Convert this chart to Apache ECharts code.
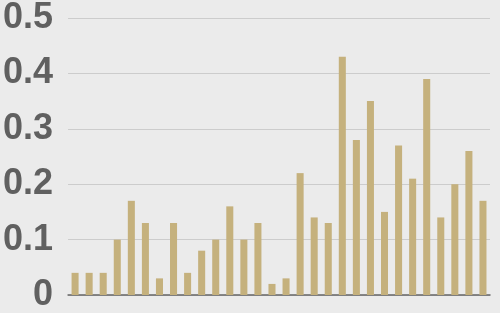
<!DOCTYPE html>
<html><head><meta charset="utf-8">
<script src="https://cdn.jsdelivr.net/npm/echarts@6/dist/echarts.min.js"></script>
<style>html,body{margin:0;padding:0;background:#ebebeb;}#c{width:500px;height:313px;}</style>
</head><body><div id="c"></div>
<script>
const categories = ['1','2','3','4','5','6','7','8','9','10','11','12','13','14','15','16','17','18','19','20','21','22','23','24','25','26','27','28','29','30'];
const values = [0.04,0.04,0.04,0.10,0.17,0.13,0.03,0.13,0.04,0.08,0.10,0.16,0.10,0.13,0.02,0.03,0.22,0.14,0.13,0.43,0.28,0.35,0.15,0.27,0.21,0.39,0.14,0.20,0.26,0.17];
const yTicks = [0,0.1,0.2,0.3,0.4,0.5];
const chart = echarts.init(document.getElementById('c'), null, {renderer:'canvas'});
chart.setOption({
  backgroundColor:'#ebebeb',
  animation:false,
  grid:{left:67,right:10,top:13.5,bottom:14.7,containLabel:false},
  xAxis:{type:'category',data:categories,
    axisLine:{lineStyle:{color:'#666666',width:1.5}},
    axisTick:{show:false},axisLabel:{show:false}},
  yAxis:{type:'value',min:yTicks[0],max:yTicks[yTicks.length-1],interval:0.1,
    axisLine:{show:false},axisTick:{show:false},
    splitLine:{lineStyle:{color:'#cccccc',width:1}},
    axisLabel:{margin:15,color:'#606060',fontFamily:'Liberation Sans, Arial, sans-serif',fontWeight:'bold',fontSize:36,
      padding:[4,0,0,0],
      formatter:v=>String(Math.round(v*10)/10)}},
  series:[{type:'bar',data:values,barWidth:'50%',itemStyle:{color:'#c5b17d'}}]
});
</script></body></html>
